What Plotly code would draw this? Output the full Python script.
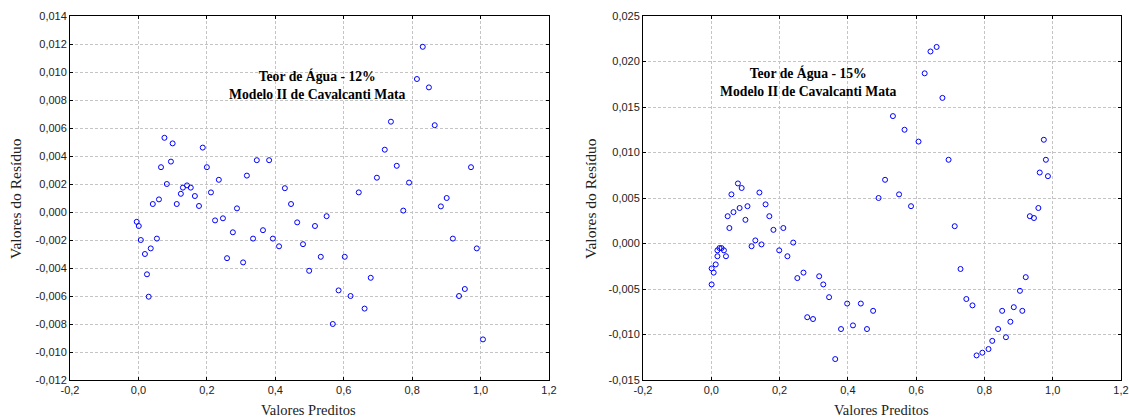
import plotly.graph_objects as go
from plotly.subplots import make_subplots

# Teor de Água 12% - predicted values and residuals
pred_12 = [-0.005, 0.001, 0.007, 0.019, 0.025, 0.030, 0.036, 0.042, 0.054, 0.060,
           0.066, 0.076, 0.083, 0.095, 0.100, 0.112, 0.124, 0.130, 0.142, 0.153,
           0.165, 0.177, 0.188, 0.200, 0.212, 0.224, 0.235, 0.247, 0.259, 0.276,
           0.288, 0.306, 0.317, 0.335, 0.346, 0.364, 0.382, 0.393, 0.411, 0.428,
           0.446, 0.464, 0.481, 0.499, 0.516, 0.533, 0.550, 0.568, 0.585, 0.603,
           0.620, 0.644, 0.661, 0.679, 0.697, 0.720, 0.738, 0.755, 0.774, 0.791,
           0.814, 0.831, 0.849, 0.866, 0.884, 0.901, 0.919, 0.937, 0.954, 0.972,
           0.989, 1.007]
res_12 = [-0.0007, -0.0010, -0.0020, -0.0030, -0.00445, -0.00605, -0.0026, 0.00057, -0.0019, 0.0009,
          0.0032, 0.0053, 0.0020, 0.0036, 0.0049, 0.00057, 0.0013, 0.00174, 0.0019, 0.00174,
          0.00114, 0.00043, 0.0046, 0.0032, 0.0014, -0.0006, 0.0023, -0.00045, -0.0033, -0.00145,
          0.00026, -0.0036, 0.0026, -0.0019, 0.0037, -0.0013, 0.0037, -0.0019, -0.00245, 0.0017,
          0.00057, -0.00074, -0.0023, -0.0042, -0.0010, -0.0032, -0.0003, -0.0080, -0.0056, -0.0032,
          -0.0060, 0.0014, -0.0069, -0.0047, 0.00245, 0.00445, 0.00645, 0.0033, 0.0001, 0.0021,
          0.0095, 0.0118, 0.0089, 0.0062, 0.0004, 0.0010, -0.0019, -0.0060, -0.0055, 0.0032,
          -0.0026, -0.0091]

# Teor de Água 15% - predicted values and residuals
pred_15 = [0.001, 0.001, 0.007, 0.013, 0.018, 0.018, 0.024, 0.030, 0.037, 0.043,
           0.048, 0.053, 0.059, 0.065, 0.078, 0.083, 0.089, 0.100, 0.106, 0.118,
           0.129, 0.141, 0.147, 0.159, 0.170, 0.182, 0.199, 0.211, 0.223, 0.240,
           0.252, 0.270, 0.281, 0.298, 0.316, 0.328, 0.345, 0.363, 0.380, 0.398,
           0.415, 0.438, 0.456, 0.474, 0.490, 0.509, 0.532, 0.550, 0.566, 0.585,
           0.607, 0.625, 0.642, 0.660, 0.677, 0.695, 0.713, 0.730, 0.747, 0.765,
           0.777, 0.794, 0.812, 0.823, 0.840, 0.852, 0.863, 0.876, 0.886, 0.904,
           0.911, 0.921, 0.933, 0.945, 0.958, 0.962, 0.974, 0.980, 0.986]
res_15 = [-0.0045, -0.00274, -0.0032, -0.0023, -0.0014, -0.00075, -0.0005, -0.0005, -0.00075, -0.0014,
          0.0030, 0.0017, 0.0054, 0.00345, 0.0066, 0.0039, 0.0061, 0.0026, 0.0041, -0.0003,
          0.00034, 0.0056, -0.0001, 0.0043, 0.0030, 0.0015, -0.00075, 0.0017, -0.0014, 0.0001,
          -0.0038, -0.0032, -0.0081, -0.0083, -0.0036, -0.0045, -0.0059, -0.0127, -0.0094, -0.0066,
          -0.0090, -0.0066, -0.0094, -0.0074, 0.0050, 0.0070, 0.0140, 0.0054, 0.0125, 0.0041,
          0.0112, 0.0187, 0.0211, 0.0216, 0.0160, 0.0092, 0.0019, -0.0028, -0.0061, -0.0068,
          -0.0123, -0.0120, -0.0116, -0.0107, -0.0094, -0.0074, -0.0103, -0.0086, -0.0070, -0.0052,
          -0.0074, -0.0037, 0.0030, 0.0028, 0.0039, 0.0078, 0.0114, 0.0092, 0.0074]

# Axis ticks
x_ticks = [-0.2, 0.0, 0.2, 0.4, 0.6, 0.8, 1.0, 1.2]
x_ticktext = ["-0,2", "0,0", "0,2", "0,4", "0,6", "0,8", "1,0", "1,2"]
y12_ticks = [0.014, 0.012, 0.010, 0.008, 0.006, 0.004, 0.002, 0.000,
             -0.002, -0.004, -0.006, -0.008, -0.010, -0.012]
y12_ticktext = ["0,014", "0,012", "0,010", "0,008", "0,006", "0,004", "0,002", "0,000",
                "-0,002", "-0,004", "-0,006", "-0,008", "-0,010", "-0,012"]
y15_ticks = [0.025, 0.020, 0.015, 0.010, 0.005, 0.000, -0.005, -0.010, -0.015]
y15_ticktext = ["0,025", "0,020", "0,015", "0,010", "0,005", "0,000",
                "-0,005", "-0,010", "-0,015"]

titles = ["Teor de Água - 12%<br>Modelo II de Cavalcanti Mata",
          "Teor de Água - 15%<br>Modelo II de Cavalcanti Mata"]
x_title = "Valores Preditos"
y_title = "Valores do Resíduo"

W, H = 1129, 420
R = 8                 # right margin
PW = W - R            # paper width in pixels
fig = make_subplots(rows=1, cols=2)

marker = dict(symbol="circle-open", size=5, color="#0000ff", line=dict(width=1, color="#0000ff"))
fig.add_trace(go.Scatter(x=pred_12, y=res_12, mode="markers", marker=marker,
                         showlegend=False, hoverinfo="x+y"), row=1, col=1)
fig.add_trace(go.Scatter(x=pred_15, y=res_15, mode="markers", marker=marker,
                         showlegend=False, hoverinfo="x+y"), row=1, col=2)

tick_font = dict(family="Liberation Sans, Arial, sans-serif", size=11, color="#222222")
axis_common = dict(
    showgrid=True, gridcolor="#c4c4c4", griddash="3px,2px", gridwidth=1,
    zeroline=False, showline=True, linecolor="#000000", linewidth=1, mirror="ticks",
    ticks="inside", ticklen=3, tickcolor="#000000", tickfont=tick_font,
    automargin=False, ticklabeloverflow="allow",
)

fig.update_xaxes(**axis_common, range=[-0.2, 1.2], tickvals=x_ticks, ticktext=x_ticktext)
fig.update_xaxes(domain=[70 / PW, 549 / PW], row=1, col=1)
fig.update_xaxes(domain=[643 / PW, 1.0], row=1, col=2)
fig.update_yaxes(**axis_common)
fig.update_yaxes(range=[-0.012, 0.014], tickvals=y12_ticks, ticktext=y12_ticktext, row=1, col=1)
fig.update_yaxes(range=[-0.015, 0.025], tickvals=y15_ticks, ticktext=y15_ticktext, row=1, col=2)

serif = "Liberation Serif, Times New Roman, serif"
plot_top, plot_bottom = 16, 380
def py(pix):
    return (plot_bottom - pix) / (plot_bottom - plot_top)

title_font = dict(family=serif, size=13.7, color="#000000")
xlabel_font = dict(family=serif, size=14.5, color="#222222")
ylabel_font = dict(family=serif, size=15.5, color="#222222")
annotations = [
    dict(text="<b>" + titles[0] + "</b>", xref="x", yref="y", x=0.523, y=0.00905,
         xanchor="center", yanchor="middle",
         showarrow=False, font=title_font, align="center"),
    dict(text="<b>" + titles[1] + "</b>", xref="x2", yref="y2", x=0.284, y=0.0178,
         xanchor="center", yanchor="middle",
         showarrow=False, font=title_font, align="center"),
    dict(text=x_title, xref="paper", yref="paper", x=308 / PW, y=py(410), showarrow=False,
         xanchor="center", yanchor="middle", font=xlabel_font),
    dict(text=x_title, xref="paper", yref="paper", x=881 / PW, y=py(410), showarrow=False,
         xanchor="center", yanchor="middle", font=xlabel_font),
    dict(text=y_title, xref="paper", yref="paper", x=15 / PW, y=py(199), showarrow=False,
         xanchor="center", yanchor="middle", textangle=-90, font=ylabel_font),
    dict(text=y_title, xref="paper", yref="paper", x=590 / PW, y=py(199), showarrow=False,
         xanchor="center", yanchor="middle", textangle=-90, font=ylabel_font),
]

fig.update_layout(
    width=W, height=H,
    margin=dict(l=0, r=R, t=plot_top, b=H - plot_bottom, pad=0),
    paper_bgcolor="#ffffff", plot_bgcolor="#ffffff",
    annotations=annotations,
    showlegend=False,
)
fig.update_yaxes(domain=[0, 1])

fig.write_html("out.html")
